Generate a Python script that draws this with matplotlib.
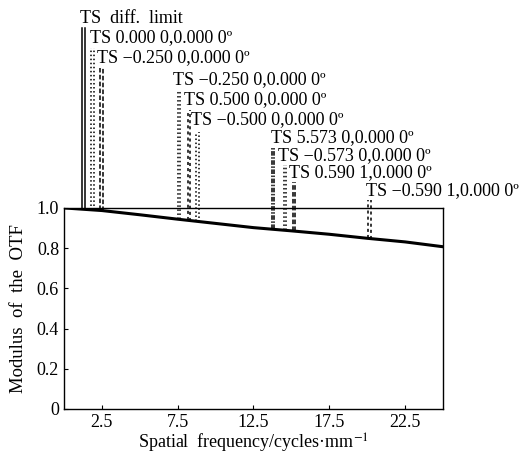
import numpy as np
import matplotlib
matplotlib.use("Agg")
import matplotlib.pyplot as plt

plt.rcParams['font.family'] = ['Liberation Serif', 'DejaVu Serif']
plt.rcParams['mathtext.fontset'] = 'stix'

# MTF curve (all fields overlap almost exactly)
freq = [0, 2.5, 5, 7.5, 10, 12.5, 15, 17.5, 20, 22.5, 25]
mtf = [1.0, 0.987, 0.966, 0.944, 0.923, 0.902, 0.886, 0.869, 0.849, 0.831, 0.807]

# field labels, and the two (T, S) marker lines hanging from each one
labels = ["TS  diff.  limit",
          "TS 0.000 0,0.000 0º",
          "TS \u22120.250 0,0.000 0º",
          "TS \u22120.250 0,0.000 0º",
          "TS 0.500 0,0.000 0º",
          "TS \u22120.500 0,0.000 0º",
          "TS 5.573 0,0.000 0º",
          "TS \u22120.573 0,0.000 0º",
          "TS 0.590 1,0.000 0º",
          "TS \u22120.590 1,0.000 0º"]
label_x = [1.06, 1.72, 2.19, 7.22, 7.95, 8.41, 13.64, 14.10, 14.83, 19.93]
label_y = [1.940, 1.846, 1.746, 1.637, 1.537, 1.438, 1.348, 1.259, 1.174, 1.085]
line_x1 = [1.20, 1.80, 2.35, 7.50, 8.15, 8.70, 13.70, 14.50, 15.10, 20.05]
line_x2 = [1.40, 1.95, 2.60, 7.65, 8.30, 8.90, 13.85, 14.65, 15.25, 20.25]
line_top = [1.896, 1.796, 1.697, 1.587, 1.488, 1.378, 1.303, 1.214, 1.129, 1.040]
styles = ['-', ':', (0, (3, 1.5)), ':', (0, (2, 2)), ':',
          (0, (3, 1, 1, 1)), ':', (0, (3, 1.5)), (0, (2, 2))]

xticks = [2.5, 7.5, 12.5, 17.5, 22.5]
yticks = [0, 0.2, 0.4, 0.6, 0.8, 1.0]
yticklabels = ["0", "0.2", "0.4", "0.6", "0.8", "1.0"]

fig = plt.figure(figsize=(5.21, 4.59), dpi=100)
ax = fig.add_axes([0.1228, 0.109, 0.7274, 0.438])

ax.plot(freq, mtf, color='black', lw=2.2)

for lab, lx, ly, x1, x2, top, ls in zip(labels, label_x, label_y,
                                        line_x1, line_x2, line_top, styles):
    for xx in (x1, x2):
        bottom = np.interp(xx, freq, mtf)
        ax.plot([xx, xx], [bottom, top], color='black', lw=1.1,
                linestyle=ls, clip_on=False)
    ax.text(lx, ly, lab, fontsize=13, ha='left', va='center', clip_on=False)

ax.set_xlim(0, 25)
ax.set_ylim(0, 1.0)
ax.set_xticks(xticks)
ax.set_xticklabels([str(t) for t in xticks])
ax.set_yticks(yticks)
ax.set_yticklabels(yticklabels)
ax.tick_params(direction='in', length=3, labelsize=13, width=0.8)
for s in ax.spines.values():
    s.set_linewidth(1.0)

ax.set_xlabel("Spatial  frequency/cycles\u00b7mm$^{-1}$", fontsize=13, labelpad=1)
ax.set_ylabel("Modulus  of  the  OTF", fontsize=13.5, labelpad=7)

fig.savefig("out.png", dpi=100)
